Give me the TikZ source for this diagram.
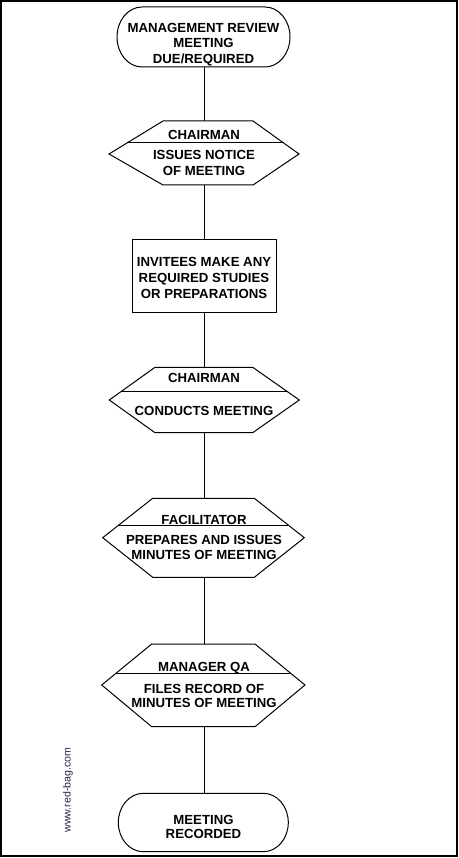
\documentclass[tikz,border=0pt]{standalone}
\usepackage{fontspec}
\setmainfont{Liberation Sans}
\usetikzlibrary{calc}
\definecolor{wmcolor}{RGB}{35,38,70}
\tikzset{
  shapebox/.style={draw=none, inner sep=0pt, outer sep=0pt, rectangle},
  outline/.style={draw=black, line width=1pt, line join=miter},
  lbl/.style={font=\fontsize{13.2}{16}\selectfont\bfseries, inner sep=0pt, anchor=base, text=black},
  conn/.style={draw=black, line width=1pt},
  frame/.style={draw=black, line width=1.8pt},
  wmark/.style={font=\fontsize{10.6}{12}\selectfont, rotate=90, text=wmcolor, inner sep=0pt},
}
\begin{document}
\begin{tikzpicture}[x=1pt,y=-1pt]
\useasboundingbox (0,0) rectangle (458,858);
\draw[frame] (0.9,0.9) rectangle (456.6,856.3);

% ---------- terminal 1
\node[shapebox, minimum width=173pt, minimum height=60pt] (t1) at (204,37) {};
\draw[outline] (142,7) -- (265,7) arc[start angle=90,end angle=-90,x radius=25pt,y radius=30pt]
  -- (142,67) arc[start angle=270,end angle=90,x radius=25pt,y radius=30pt] -- cycle;
\node[lbl] (t1a) at (203.5,33) {MANAGEMENT REVIEW};
\node[lbl] (t1b) at (203.5,48) {MEETING};
\node[lbl] (t1c) at (203.5,64) {DUE/REQUIRED};

% ---------- hexagon 1
\node[shapebox, minimum width=190pt, minimum height=64pt] (h1) at (204,153) {};
\draw[outline] (163,121) -- (253,121) -- (299,154) -- (253,185) -- (163,185) -- (109,154) -- cycle;
\draw[outline] (127,143) -- (283.7,143);
\node[lbl] (h1a) at (204,139.7) {CHAIRMAN};
\node[lbl] (h1b) at (204,159.7) {ISSUES NOTICE};
\node[lbl] (h1c) at (204,175.7) {OF MEETING};

% ---------- box
\node[shapebox, draw=black, line width=1pt, minimum width=144pt, minimum height=73.4pt] (b1) at (204,276) {};
\node[lbl] (b1a) at (204,266.5) {INVITEES MAKE ANY};
\node[lbl] (b1b) at (204,282.5) {REQUIRED STUDIES};
\node[lbl] (b1c) at (204,298.5) {OR PREPARATIONS};

% ---------- hexagon 2
\node[shapebox, minimum width=190pt, minimum height=65.4pt] (h2) at (204,400) {};
\draw[outline] (155,367.3) -- (252.7,367.3) -- (299.3,400) -- (252.7,432.7) -- (155,432.7) -- (109.3,400) -- cycle;
\draw[outline] (120.9,391.7) -- (287.5,391.7);
\node[lbl] (h2a) at (204,382.7) {CHAIRMAN};
\node[lbl] (h2b) at (204,415.4) {CONDUCTS MEETING};

% ---------- hexagon 3
\node[shapebox, minimum width=201.6pt, minimum height=79pt] (h3) at (204,537.8) {};
\draw[outline] (152.7,498.3) -- (254.3,498.3) -- (304.3,537.7) -- (254.3,577.3) -- (152.7,577.3) -- (102.7,537.7) -- cycle;
\draw[outline] (118.8,525) -- (288.2,525);
\node[lbl] (h3a) at (204,524) {FACILITATOR};
\node[lbl] (h3b) at (204,544.7) {PREPARES AND ISSUES};
\node[lbl] (h3c) at (204,559.7) {MINUTES OF MEETING};

% ---------- hexagon 4
\node[shapebox, minimum width=203.3pt, minimum height=82.7pt] (h4) at (204,685.35) {};
\draw[outline] (151.7,644) -- (255,644) -- (305,685) -- (255,726.7) -- (151.7,726.7) -- (101.7,685) -- cycle;
\draw[outline] (115.95,673.3) -- (290.75,673.3);
\node[lbl] (h4a) at (204,671.4) {MANAGER QA};
\node[lbl] (h4b) at (204,693) {FILES RECORD OF};
\node[lbl] (h4c) at (204,707.4) {MINUTES OF MEETING};

% ---------- terminal 2
\node[shapebox, minimum width=170pt, minimum height=58.4pt] (t2) at (204,822.5) {};
\draw[outline] (143.3,793.3) -- (263.3,793.3) arc[start angle=90,end angle=-90,x radius=25pt,y radius=29.2pt]
  -- (143.3,851.7) arc[start angle=270,end angle=90,x radius=25pt,y radius=29.2pt] -- cycle;
\node[lbl] (t2a) at (203.5,824) {MEETING};
\node[lbl] (t2b) at (203.5,838.7) {RECORDED};

% ---------- connectors
\draw[conn] (t1.south) -- (h1.north);
\draw[conn] (h1.south) -- (b1.north);
\draw[conn] (b1.south) -- (h2.north);
\draw[conn] (h2.south) -- (h3.north);
\draw[conn] (h3.south) -- (h4.north);
\draw[conn] (h4.south) -- (t2.north);

% ---------- watermark
\node[wmark] (wm) at (68,790) {www.red-bag.com};
\end{tikzpicture}
\end{document}
